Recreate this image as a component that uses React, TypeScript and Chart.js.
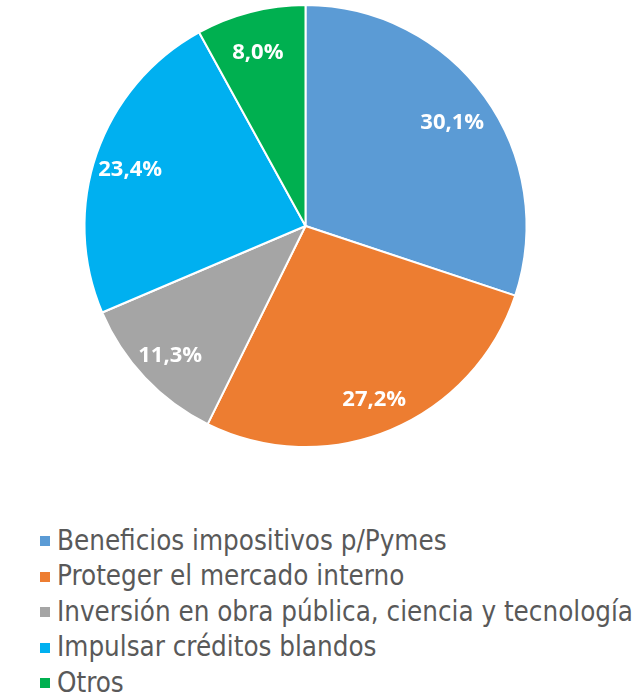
import React, { useEffect, useRef } from "react";
import { Chart, registerables } from "chart.js";

Chart.register(...registerables);

const categories = [
  "Beneficios impositivos p/Pymes",
  "Proteger el mercado interno",
  "Inversión en obra pública, ciencia y tecnología",
  "Impulsar créditos blandos",
  "Otros",
];
const values = [30.1, 27.2, 11.3, 23.4, 8.0];
const valueLabels = ["30,1%", "27,2%", "11,3%", "23,4%", "8,0%"];
const colors = ["#5B9BD5", "#ED7D31", "#A5A5A5", "#00B0F0", "#00B050"];

const sliceLabelPlugin = {
  id: "sliceLabels",
  afterDatasetsDraw(chart: any) {
    const meta = chart.getDatasetMeta(0);
    const ctx = chart.ctx;
    ctx.save();
    ctx.fillStyle = "#ffffff";
    ctx.font = "bold 22px 'Open Sans', sans-serif";
    ctx.textAlign = "center";
    ctx.textBaseline = "middle";
    meta.data.forEach((arc: any, i: number) => {
      const p = arc.getProps(["x", "y", "startAngle", "endAngle", "outerRadius"], true);
      const mid = (p.startAngle + p.endAngle) / 2;
      const r = p.outerRadius * 0.83;
      ctx.fillText(valueLabels[i], p.x + Math.cos(mid) * r - 2, p.y + Math.sin(mid) * r + 4);
    });
    ctx.restore();
  },
};

export default function App() {
  const ref = useRef<HTMLCanvasElement | null>(null);
  useEffect(() => {
    if (!ref.current) return;
    const chart = new Chart(ref.current, {
      type: "pie",
      data: {
        labels: categories,
        datasets: [
          {
            data: values,
            backgroundColor: colors,
            borderColor: "#ffffff",
            borderWidth: 2,
          },
        ],
      },
      options: {
        animation: false,
        responsive: false,
        layout: { padding: { top: 4, bottom: 12, left: 83, right: 112 } },
        plugins: {
          legend: { display: false },
          tooltip: { enabled: false },
        },
      },
      plugins: [sliceLabelPlugin],
    });
    return () => chart.destroy();
  }, []);

  return (
    <div style={{ position: "absolute", left: 0, top: 0, width: 640, height: 700, background: "#fff" }}>
      <canvas ref={ref} width={640} height={460} style={{ display: "block" }} />
      <div
        style={{
          position: "absolute",
          left: 40,
          top: 522,
          fontFamily: "'DejaVu Sans Condensed', sans-serif",
          fontStretch: "condensed",
          fontSize: 27.5,
          color: "#595959",
        }}
      >
        {categories.map((c, i) => (
          <div key={c} style={{ display: "flex", alignItems: "center", height: 35.5, whiteSpace: "nowrap" }}>
            <span
              style={{
                display: "inline-block",
                width: 10,
                height: 10,
                background: colors[i],
                marginRight: 7,
                marginTop: 3,
              }}
            />
            <span>{c}</span>
          </div>
        ))}
      </div>
    </div>
  );
}
